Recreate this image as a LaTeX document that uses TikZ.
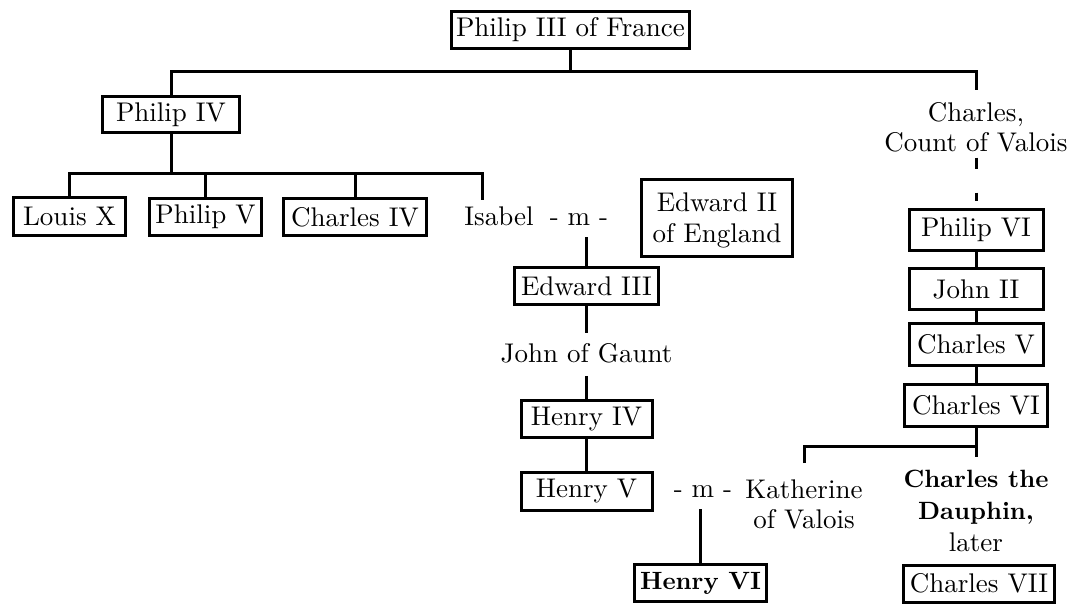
\documentclass[tikz,border=0pt]{standalone}
\usepackage{fontspec}
\setmainfont{lmroman10-regular.otf}[BoldFont=lmroman10-bold.otf, ItalicFont=lmroman10-italic.otf]
\newcommand\fsreg{\fontsize{27}{30}\selectfont}
\newcommand\fsbold{\fontsize{25}{32}\selectfont\bfseries}
\tikzset{
  box/.style={draw, line width=3pt, inner sep=0pt, font=\fsreg},
  txt/.style={inner sep=0pt, font=\fsreg, align=center},
  conn/.style={line width=3pt}
}
\begin{document}
\begin{tikzpicture}[x=1pt,y=-1pt]
\useasboundingbox (0,0) rectangle (1074,605);
% boxes
\node[box, minimum width=238pt, minimum height=37pt] (p3) at (570.5,30) {Philip III of France};
\node[box, minimum width=137pt, minimum height=36pt] (p4) at (171,114.5) {Philip IV};
\node[box, minimum width=112pt, minimum height=38pt] (louis) at (69.5,216.5) {Louis X};
\node[box, minimum width=112pt, minimum height=37pt] (philip5) at (205.5,217) {Philip V};
\node[box, minimum width=143pt, minimum height=37pt] (charles4) at (355,217) {Charles IV};
\node[box, minimum width=151pt, minimum height=77pt, align=center, text depth=0pt, font=\fontsize{27}{31}\selectfont] (e2) at (717,218) {Edward II\\of England};
\node[box, minimum width=144pt, minimum height=37pt] (e3) at (586.5,286) {Edward III};
\node[box, minimum width=131pt, minimum height=37pt] (h4) at (586.5,419) {Henry IV};
\node[box, minimum width=131pt, minimum height=38pt] (h5) at (586.5,491.5) {Henry V};
\node[box, minimum width=132pt, minimum height=37pt, font=\fsbold] (h6) at (700.5,583) {Henry VI};
\node[box, minimum width=134pt, minimum height=41pt] (p6) at (976,230) {Philip VI};
\node[box, minimum width=134pt, minimum height=41pt] (j2) at (976,289) {John II};
\node[box, minimum width=134pt, minimum height=42pt] (c5) at (976,344.5) {Charles V};
\node[box, minimum width=143pt, minimum height=42pt] (c6) at (976,405.5) {Charles VI};
\node[box, minimum width=151pt, minimum height=37pt] (c7) at (979,583.5) {Charles VII};
% plain texts
\node[txt, anchor=base] (isabel) at (499,225) {Isabel};
\node[txt, anchor=base] (m1) at (579,225) {- m -};
\node[txt, anchor=base] (gaunt) at (586.5,362) {John of Gaunt};
\node[txt, anchor=base] (m2) at (703,497) {- m -};
\node[txt] (valois) at (976,127.6) {Charles,\\Count of Valois};
\node[txt] (kath) at (804,504) {Katherine\\of Valois};
\node[txt, font=\fontsize{27}{32}\selectfont] (dauphin) at (976,511.3) {{\fsbold Charles the}\\{\fsbold Dauphin,}\\later};
% connectors
\coordinate (b1) at (570.5,71);
\draw[conn] (p3) -- (b1);
\draw[conn, shorten >=13pt] (p4) |- (b1) -| (valois);
\coordinate (b2) at (171,173);
\coordinate (isab) at (482,200);
\draw[conn] (p4) -- (b2);
\draw[conn] (louis) |- (isab |- b2) -- (isab);
\draw[conn] (philip5) -- (philip5 |- b2);
\draw[conn] (charles4) -- (charles4 |- b2);
\draw[conn, shorten >=12pt] (e3) -- (e3 |- m1.south);
\draw[conn, shorten >=10pt] (e3) -- (gaunt);
\draw[conn, shorten <=13pt] (gaunt) -- (h4);
\draw[conn] (h4) -- (h5);
\draw[conn, shorten >=12pt] (h6) -- (h6 |- m2.south);
\draw[conn, dash pattern=on 11pt off 24pt, shorten <=5pt, shorten >=7pt] (valois) -- (p6);
\draw[conn] (p6) -- (j2) -- (c5) -- (c6);
\draw[conn, shorten >=13.6pt] (c6) -- (dauphin);
\coordinate (b3) at (976,446);
\draw[conn, shorten <=16pt] (kath) |- (b3);
\end{tikzpicture}
\end{document}
